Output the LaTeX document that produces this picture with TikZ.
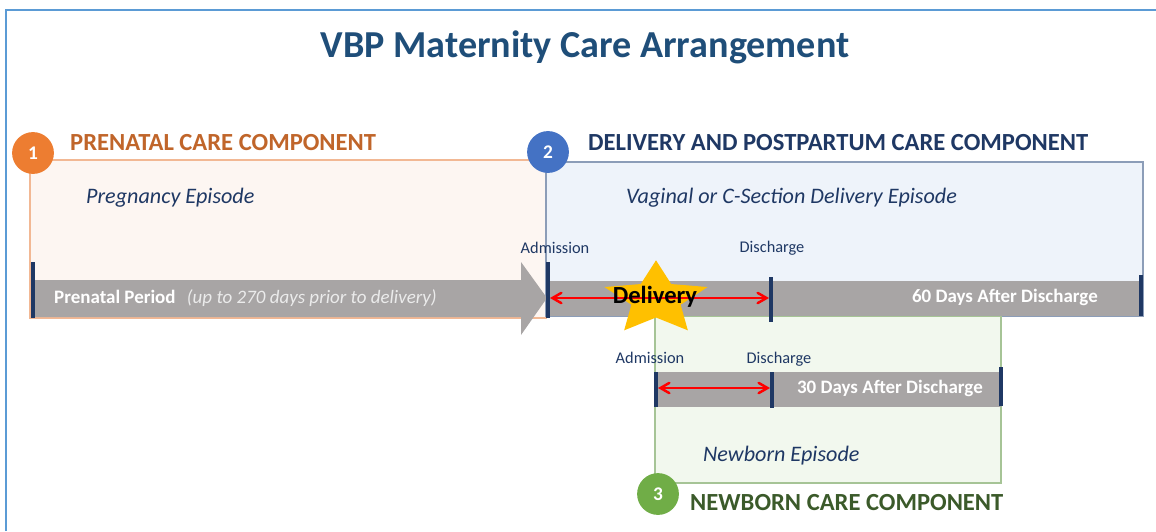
\documentclass[tikz,border=0pt]{standalone}
\usepackage{fontspec}
\setmainfont{Carlito}
\usepackage{xcolor}
\usepackage{tikz}
\usetikzlibrary{shapes, arrows, positioning}

\definecolor{frameblue}{HTML}{5B9BD5}
\definecolor{titleblue}{HTML}{1F4E79}
\definecolor{navytext}{HTML}{1F3864}
\definecolor{tickblue}{HTML}{1F3864}
\definecolor{bargray}{HTML}{A8A5A5}
\definecolor{preorange}{HTML}{ED7D31}
\definecolor{pretext}{HTML}{C0652A}
\definecolor{prefill}{HTML}{FDF6F2}
\definecolor{preline}{HTML}{F2B894}
\definecolor{delblue}{HTML}{4472C4}
\definecolor{delfill}{HTML}{EEF3FA}
\definecolor{delline}{HTML}{8C9DB8}
\definecolor{newgreen}{HTML}{70AD47}
\definecolor{newtext}{HTML}{3B5A2A}
\definecolor{newfill}{HTML}{F2F8EE}
\definecolor{newline}{HTML}{A6C496}
\definecolor{stargold}{HTML}{FFC000}

\tikzset{
  numcircle/.style={circle, fill=#1, text=white, minimum size=23.8pt, inner sep=0pt,
    font=\bfseries\fontsize{11}{11}\selectfont},
  header/.style={anchor=west, text=#1, font=\bfseries\fontsize{14}{14}\selectfont},
  episode/.style={anchor=west, text=navytext, font=\itshape\fontsize{12.6}{12.6}\selectfont},
  marklabel/.style={text=navytext, inner sep=1pt, font=\fontsize{9.3}{9.3}\selectfont},
  bartext/.style={text=white, font=\bfseries\fontsize{10.8}{10.8}\selectfont},
  ticklines/.style={draw=tickblue, line width=2.3pt},
  stayarrow/.style={<->, >=angle 60, draw=red, line width=1.4pt}
}

\begin{document}
\begin{tikzpicture}[x=0.02cm, y=-0.02cm]
        \useasboundingbox (0,0) rectangle (1156,531);
        \draw[frameblue, line width=1.4pt] (6,531) -- (6,10) -- (1156,10);

        \node[text=titleblue, font=\bfseries\fontsize{21.7}{21.7}\selectfont] (title) at (585,47) {VBP Maternity Care Arrangement};

        % component boxes
        \draw[preline, fill=prefill, line width=0.8pt] (30,160) rectangle (546,318);
        \draw[delline, fill=delfill, line width=0.8pt] (546,162) rectangle (1143,316);
        \draw[newline, fill=newfill, line width=0.8pt] (655,316) rectangle (1001,483);

        % time bars
        \fill[bargray] (33,280) -- (521,280) -- (521,262) -- (547,298) -- (521,335) -- (521,317) -- (33,317) -- cycle;
        \fill[bargray] (548,281) rectangle (1141,316);
        \fill[bargray] (656,372) rectangle (1001,407);

        % ticks
        \coordinate (preStart) at (33,262);
        \coordinate (preStartB) at (33,318);
        \coordinate (delAdmit) at (548,262);
        \coordinate (delAdmitB) at (548,318);
        \coordinate (delDisch) at (771,277);
        \coordinate (delDischB) at (771,322);
        \coordinate (delEnd) at (1141,275);
        \coordinate (delEndB) at (1141,316);
        \coordinate (newAdmit) at (656,372);
        \coordinate (newAdmitB) at (656,407);
        \coordinate (newDisch) at (772,372);
        \coordinate (newDischB) at (772,408);
        \coordinate (newEnd) at (1001,367);
        \coordinate (newEndB) at (1001,406);
        \draw[ticklines] (preStart) -- (preStartB);
        \draw[ticklines] (delAdmit) -- (delAdmitB);
        \draw[ticklines] (delDisch) -- (delDischB);
        \draw[ticklines] (delEnd) -- (delEndB);
        \draw[ticklines] (newAdmit) -- (newAdmitB);
        \draw[ticklines] (newDisch) -- (newDischB);
        \draw[ticklines] (newEnd) -- (newEndB);

        \node[marklabel, anchor=south] (delAdmitLbl) at (555,256) {Admission};
        \node[marklabel, anchor=south] (delDischLbl) at (772,257) {Discharge};
        \node[marklabel, anchor=south] (newAdmitLbl) at (650,366) {Admission};
        \node[marklabel, anchor=south] (newDischLbl) at (779,368) {Discharge};

        % delivery star (wider than tall)
        \fill[stargold, shift={(656,299)}] plot[samples at={0,...,9}, variable=\k]
          ({1.4*(iseven(\k) ? 38.7 : 18.5)*cos(90+36*\k)}, {-(iseven(\k) ? 38.7 : 18.5)*sin(90+36*\k)}) -- cycle;

        \coordinate (delStayL) at (550,298);
        \coordinate (delStayR) at (769,298);
        \coordinate (newStayL) at (658,388);
        \coordinate (newStayR) at (770,388);
        \draw[stayarrow] (delStayL) -- (delStayR);
        \draw[stayarrow] (newStayL) -- (newStayR);

        \node[font=\bfseries\fontsize{14}{14}\selectfont] (delivery) at (655,297) {Delivery};

        % bar texts
        \node[bartext, anchor=west] (prePeriod) at (48,298) {Prenatal Period\hspace{0.6em}\mdseries\itshape\color{white!92!black}(up to 270 days prior to delivery)};
        \node[bartext, anchor=east] (delAfter) at (1104,297) {60 Days After Discharge};
        \node[bartext, anchor=east] (newAfter) at (989,388) {30 Days After Discharge};

        % episodes
        \node[episode] (preEp) at (80,198) {Pregnancy Episode};
        \node[episode] (delEp) at (620,198) {Vaginal or C-Section Delivery Episode};
        \node[episode] (newEp) at (697,456) {Newborn Episode};

        % component headers
        \node[numcircle=preorange] (num1) at (33,153) {1};
        \node[numcircle=delblue] (num2) at (548,152) {2};
        \node[numcircle=newgreen] (num3) at (658,494) {3};
        \node[header=pretext] (preHead) at (64,143) {PRENATAL CARE COMPONENT};
        \node[header=navytext] (delHead) at (582,143) {DELIVERY AND POSTPARTUM CARE COMPONENT};
        \node[header=newtext] (newHead) at (684,503) {NEWBORN CARE COMPONENT};
    \end{tikzpicture}
\end{document}
